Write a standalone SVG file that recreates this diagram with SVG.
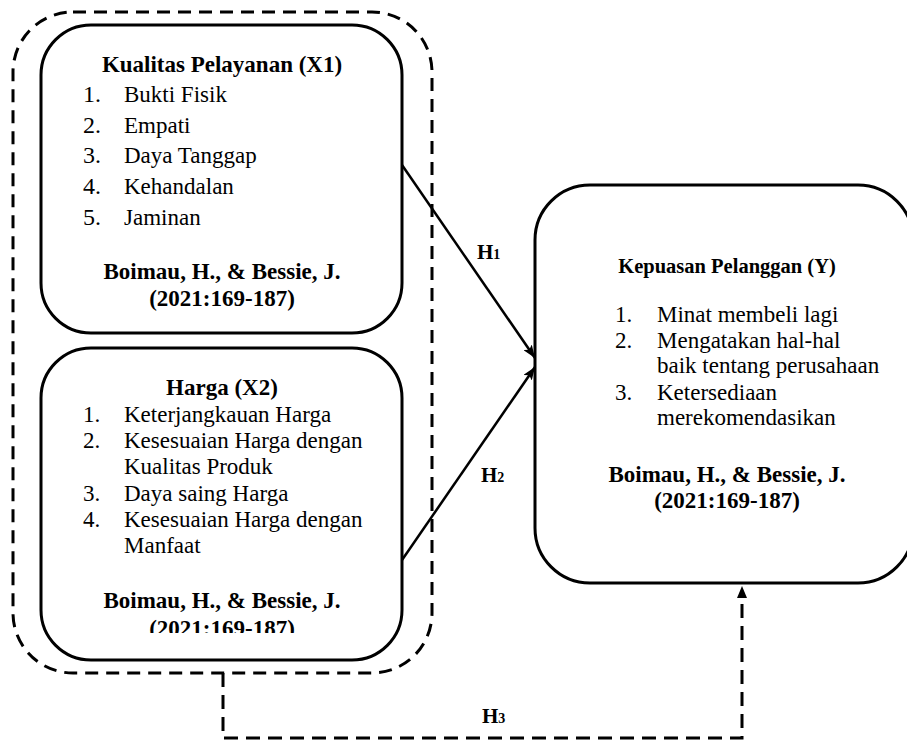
<svg xmlns="http://www.w3.org/2000/svg" width="907" height="740" viewBox="0 0 907 740">
<style>
text{font-family:"Liberation Serif","Times New Roman",serif;fill:#000}
.t{font-weight:bold;font-size:23px;text-anchor:middle}
.ty{font-weight:bold;font-size:20.5px;text-anchor:middle}
.i{font-size:23px}
.n{font-size:24px}
.h{font-weight:bold;font-size:21px}
.sub{font-size:14px}
.box{fill:none;stroke:#000;stroke-width:3}
.dash{fill:none;stroke:#000;stroke-width:3;stroke-dasharray:13 8}
.arr{fill:none;stroke:#000;stroke-width:2.5}
.darr{fill:none;stroke:#000;stroke-width:3;stroke-dasharray:14 8}
</style>
<defs>
<marker id="ah" viewBox="0 0 13 10" refX="13" refY="5" markerWidth="13" markerHeight="10" markerUnits="userSpaceOnUse" orient="auto">
<path d="M0,0 L13,5 L0,10 L3,5 Z" fill="#000"/>
</marker>
<clipPath id="clipX2"><rect x="41" y="348" width="361" height="285"/></clipPath>
</defs>

<g id="group-dashed">
<rect class="dash" x="13" y="12" width="419" height="661" rx="60" ry="60"/>
</g>

<g id="node-x1">
<rect class="box" x="41" y="25" width="361" height="308" rx="50" ry="50"/>
<text class="t" x="222" y="72">Kualitas Pelayanan (X1)</text>
<text class="n" x="83" y="102">1.</text><text class="i" x="124" y="102">Bukti Fisik</text>
<text class="n" x="83" y="133">2.</text><text class="i" x="124" y="133">Empati</text>
<text class="n" x="83" y="163">3.</text><text class="i" x="124" y="163">Daya Tanggap</text>
<text class="n" x="83" y="194">4.</text><text class="i" x="124" y="194">Kehandalan</text>
<text class="n" x="83" y="225">5.</text><text class="i" x="124" y="225">Jaminan</text>
<text class="t" x="222" y="279">Boimau, H., &amp; Bessie, J.</text>
<text class="t" x="222" y="306">(2021:169-187)</text>
</g>

<g id="node-x2">
<rect class="box" x="41" y="348" width="361" height="312" rx="50" ry="50"/>
<text class="t" x="222" y="395">Harga (X2)</text>
<text class="i" x="83" y="422">1.</text><text class="i" x="124" y="422">Keterjangkauan Harga</text>
<text class="i" x="83" y="448">2.</text><text class="i" x="124" y="448">Kesesuaian Harga dengan</text>
<text class="i" x="124" y="474">Kualitas Produk</text>
<text class="i" x="83" y="501">3.</text><text class="i" x="124" y="501">Daya saing Harga</text>
<text class="i" x="83" y="527">4.</text><text class="i" x="124" y="527">Kesesuaian Harga dengan</text>
<text class="i" x="124" y="553">Manfaat</text>
<text class="t" x="222" y="608">Boimau, H., &amp; Bessie, J.</text>
<text class="t" x="222" y="636" clip-path="url(#clipX2)">(2021:169-187)</text>
</g>

<g id="node-y">
<rect class="box" x="535" y="185" width="378" height="398" rx="55" ry="55"/>
<text class="ty" x="727" y="273">Kepuasan Pelanggan (Y)</text>
<text class="i" x="615" y="322">1.</text><text class="i" x="657" y="322">Minat membeli lagi</text>
<text class="i" x="615" y="348">2.</text><text class="i" x="657" y="348">Mengatakan hal-hal</text>
<text class="i" x="657" y="373">baik tentang perusahaan</text>
<text class="i" x="615" y="400">3.</text><text class="i" x="657" y="400">Ketersediaan</text>
<text class="i" x="657" y="425">merekomendasikan</text>
<text class="t" x="727" y="482">Boimau, H., &amp; Bessie, J.</text>
<text class="t" x="727" y="508">(2021:169-187)</text>
</g>

<g id="connectors">
<line class="arr" x1="402" y1="165" x2="535" y2="358" marker-end="url(#ah)"/>
<line class="arr" x1="402" y1="560" x2="535" y2="367" marker-end="url(#ah)"/>
<path class="darr" d="M223,673 L223,738 L742,738 L742,598"/>
<path d="M742,586 L737,598 L747,598 Z" fill="#000"/>
<text class="h" x="477" y="259">H<tspan class="sub">1</tspan></text>
<text class="h" x="481" y="482">H<tspan class="sub">2</tspan></text>
<text class="h" x="482" y="723">H<tspan class="sub">3</tspan></text>
</g>
</svg>
